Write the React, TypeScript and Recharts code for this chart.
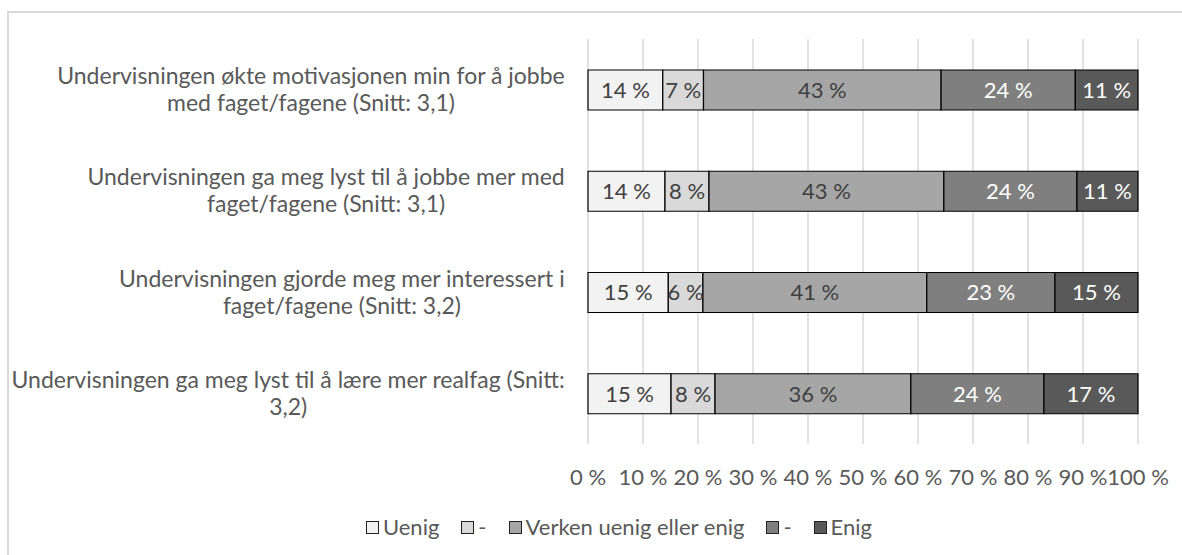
import { Bar, BarChart, CartesianGrid, LabelList, Legend, XAxis, YAxis } from "recharts";

const categories = [
  "Undervisningen økte motivasjonen min for å jobbe\nmed faget/fagene (Snitt: 3,1)",
  "Undervisningen ga meg lyst til å jobbe mer med\nfaget/fagene (Snitt: 3,1)",
  "Undervisningen gjorde meg mer interessert i\nfaget/fagene (Snitt: 3,2)",
  "Undervisningen ga meg lyst til å lære mer realfag (Snitt:\n3,2)",
];

const seriesNames = ["Uenig", "-", "Verken uenig eller enig", "-", "Enig"];

const uenig = [13.6, 14.0, 14.6, 15.1];
const littUenig = [7.4, 8.0, 6.3, 8.0];
const verken = [43.2, 42.7, 40.7, 35.6];
const littEnig = [24.4, 24.2, 23.3, 24.2];
const enig = [11.4, 11.1, 15.1, 17.1];

const xTicks = [0, 10, 20, 30, 40, 50, 60, 70, 80, 90, 100];

const colors = ["#f2f2f2", "#d9d9d9", "#a6a6a6", "#7f7f7f", "#595959"];
const labelColors = ["#404040", "#404040", "#404040", "#ffffff", "#ffffff"];
const keys = ["s0", "s1", "s2", "s3", "s4"];

const data = categories.map((name, i) => ({
  name,
  s0: uenig[i],
  s1: littUenig[i],
  s2: verken[i],
  s3: littEnig[i],
  s4: enig[i],
}));

const FONT = "Lato, 'Open Sans', sans-serif";
const FONT_SIZE = 22;
const CAT_SIZE = 23;
const TEXT = "#595959";

let ctx: CanvasRenderingContext2D | null = null;
function textWidth(s: string) {
  if (!ctx) ctx = document.createElement("canvas").getContext("2d");
  if (!ctx) return s.length * 10;
  ctx.font = `${CAT_SIZE}px Lato`;
  return ctx.measureText(s).width;
}

// Excel-style wrapped label: widest line right-aligned, other lines centred on it
function CategoryTick(props: any) {
  const { x, y, payload } = props;
  const lines: string[] = String(payload.value).split("\n");
  const widest = Math.max(...lines.map(textWidth));
  const right = x - 15;
  const cx = right - widest / 2;
  const lh = 27;
  const startY = y - ((lines.length - 1) * lh) / 2;
  return (
    <text fill={TEXT} fontSize={CAT_SIZE} fontFamily={FONT} textAnchor="middle">
      {lines.map((l, i) => (
        <tspan key={i} x={cx} y={startY + i * lh} dy="0.35em">
          {l}
        </tspan>
      ))}
    </text>
  );
}

function LegendContent() {
  return (
    <div
      style={{
        display: "flex",
        justifyContent: "center",
        alignItems: "center",
        gap: 22,
        paddingLeft: 56,
        boxSizing: "border-box",
        width: 1182,
        fontFamily: FONT,
        fontSize: FONT_SIZE,
        color: TEXT,
        lineHeight: "26px",
      }}
    >
      {seriesNames.map((n, i) => (
        <div key={i} style={{ display: "flex", alignItems: "center", gap: 4 }}>
          <span
            style={{
              display: "inline-block",
              width: 11,
              height: 11,
              background: colors[i],
              border: "1.5px solid #222",
            }}
          />
          <span>{n}</span>
        </div>
      ))}
    </div>
  );
}

export default function App() {
  return (
    <div style={{ position: "absolute", left: 0, top: 0, width: 1182, height: 555, background: "#fff" }}>
      <div
        style={{
          position: "absolute",
          left: 7,
          top: 11,
          width: 1175,
          height: 544,
          borderLeft: "2px solid #d9d9d9",
          borderTop: "2px solid #d9d9d9",
          boxSizing: "border-box",
        }}
      />
      <div style={{ position: "absolute", left: 0, top: 0 }}>
        <BarChart
          width={1182}
          height={555}
          data={data}
          layout="vertical"
          margin={{ top: 39, right: 44, bottom: 71, left: 0 }}
          barSize={40}
        >
          <CartesianGrid horizontal={false} stroke="#d9d9d9" strokeWidth={1.5} />
          <XAxis
            type="number"
            domain={[0, 100]}
            ticks={xTicks}
            tickFormatter={(v) => `${v} %`}
            axisLine={false}
            tickLine={false}
            height={40}
            tickMargin={19}
            interval={0}
            tick={{ fill: TEXT, fontSize: FONT_SIZE, fontFamily: FONT }}
          />
          <YAxis
            type="category"
            dataKey="name"
            width={588}
            axisLine={false}
            tickLine={false}
            tick={<CategoryTick />}
            interval={0}
          />
          <Legend
            verticalAlign="middle"
            align="center"
            content={<LegendContent />}
            wrapperStyle={{ top: 514, left: 0, width: 1182 }}
          />
          {keys.map((k, i) => (
            <Bar
              key={k}
              dataKey={k}
              name={seriesNames[i]}
              stackId="a"
              fill={colors[i]}
              stroke="#000"
              strokeWidth={1.2}
              isAnimationActive={false}
            >
              <LabelList
                dataKey={k}
                position="center"
                formatter={(v: any) => `${Math.round(Number(v))} %`}
                fill={labelColors[i]}
                fontSize={FONT_SIZE}
                fontFamily={FONT}
              />
            </Bar>
          ))}
        </BarChart>
      </div>
    </div>
  );
}
